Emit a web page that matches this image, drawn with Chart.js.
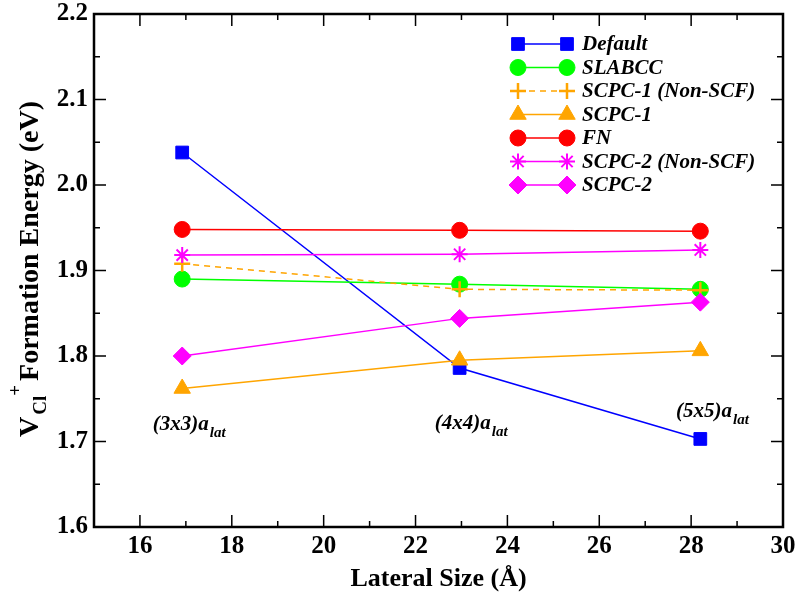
<!DOCTYPE html>
<html>
<head>
<meta charset="utf-8">
<script src="https://cdn.jsdelivr.net/npm/chart.js@4.4.1/dist/chart.umd.min.js"></script>
<style>
  html, body { margin: 0; padding: 0; background: #fff; }
  #wrap { width: 799px; height: 595px; }
</style>
</head>
<body>
<div id="wrap"><canvas id="chart"></canvas></div>
<script>
// lateral size of each supercell (Å)
const lateralSize = [16.92, 22.96, 28.2];
const cellNames = ['(3x3)', '(4x4)', '(5x5)'];

// V_Cl+ formation energy (eV) for each correction scheme
const defaultE     = [2.038, 1.786, 1.703];
const slabccE      = [1.890, 1.884, 1.878];
const scpc1NonScfE = [1.908, 1.878, 1.877];
const scpc1E       = [1.762, 1.795, 1.806];
const fnE          = [1.948, 1.947, 1.946];
const scpc2NonScfE = [1.918, 1.919, 1.924];
const scpc2E       = [1.800, 1.844, 1.863];

const seriesNames = ['Default', 'SLABCC', 'SCPC-1 (Non-SCF)', 'SCPC-1', 'FN', 'SCPC-2 (Non-SCF)', 'SCPC-2'];

const xTicks = [16, 18, 20, 22, 24, 26, 28, 30];
const yTicks = [1.6, 1.7, 1.8, 1.9, 2.0, 2.1, 2.2];

const SERIF = '"Liberation Serif", "DejaVu Serif", serif';

function pts(values) {
    return values.map((v, i) => ({ x: lateralSize[i], y: v }));
}

function series(idx, values, color, style, radius, extra) {
    return Object.assign({
        label: seriesNames[idx],
        data: pts(values),
        showLine: true,
        borderColor: color,
        backgroundColor: color,
        borderWidth: 1.5,
        pointStyle: style,
        pointRadius: radius,
        pointHoverRadius: radius,
        pointBackgroundColor: color,
        pointBorderColor: color,
        pointBorderWidth: 1,
        order: 10 - idx   // later series are painted over earlier ones
    }, extra || {});
}

const datasets = [
    series(0, defaultE, '#0000ff', 'rect', 9),
    series(1, slabccE, '#00ff00', 'circle', 8),
    series(2, scpc1NonScfE, '#ffa500', 'cross', 8, { borderDash: [6, 5], pointBorderWidth: 2.5 }),
    series(3, scpc1E, '#ffa500', 'triangle', 9.5),
    series(4, fnE, '#ff0000', 'circle', 8),
    series(5, scpc2NonScfE, '#ff00ff', 'star', 8, { pointBorderWidth: 2 }),
    series(6, scpc2E, '#ff00ff', 'rectRot', 9)
];

// where the supercell captions sit, in data units (left edge, baseline)
const captionPos = [[16.28, 1.713], [22.42, 1.715], [27.67, 1.729]];

// frame, inward ticks, axis title, captions and legend
const decorations = {
    id: 'decorations',
    afterDraw(chart) {
        const ctx = chart.ctx;
        const { left, right, top, bottom } = chart.chartArea;
        const xs = chart.scales.x, ys = chart.scales.y;
        ctx.save();
        ctx.strokeStyle = '#000';
        ctx.fillStyle = '#000';

        // ticks on all four sides
        ctx.lineWidth = 1.5;
        ctx.beginPath();
        for (let v = 15; v <= 30; v += 1) {
            const px = xs.getPixelForValue(v);
            const len = (v % 2 === 0) ? 12 : 6;
            ctx.moveTo(px, bottom); ctx.lineTo(px, bottom - len);
            ctx.moveTo(px, top); ctx.lineTo(px, top + len);
        }
        for (let k = 0; k <= 12; k++) {
            const v = 1.6 + k * 0.05;
            const py = ys.getPixelForValue(v);
            const len = (k % 2 === 0) ? 12 : 6;
            ctx.moveTo(left, py); ctx.lineTo(left + len, py);
            ctx.moveTo(right, py); ctx.lineTo(right - len, py);
        }
        ctx.stroke();

        // frame
        ctx.lineWidth = 2.5;
        ctx.strokeRect(left, top, right - left, bottom - top);

        // y axis title: V_Cl^+ Formation Energy (eV), written bottom-up
        const big = 'bold 28px ' + SERIF;
        const small = 'bold 19px ' + SERIF;
        ctx.save();
        ctx.translate(38, 437);
        ctx.rotate(-Math.PI / 2);
        ctx.textBaseline = 'alphabetic';
        ctx.textAlign = 'left';
        let tx = 0;
        ctx.font = big;
        ctx.fillText('V', tx, 0);
        tx += ctx.measureText('V').width + 2;
        ctx.font = small;
        ctx.fillText('Cl', tx, 8);
        tx += ctx.measureText('Cl').width;
        ctx.fillText('+', tx, -17);
        tx += ctx.measureText('+').width + 4;
        ctx.font = big;
        ctx.fillText('Formation Energy (eV)', tx, 0);
        ctx.restore();

        // supercell captions
        ctx.textBaseline = 'alphabetic';
        ctx.textAlign = 'left';
        cellNames.forEach((name, i) => {
            const px = xs.getPixelForValue(captionPos[i][0]);
            const py = ys.getPixelForValue(captionPos[i][1]);
            ctx.font = 'italic bold 21px ' + SERIF;
            const main = name + 'a';
            ctx.fillText(main, px, py);
            const w = ctx.measureText(main).width;
            ctx.font = 'italic bold 15px ' + SERIF;
            ctx.fillText('lat', px + w + 1, py + 7);
        });

        // legend: line with a marker at each end
        const x0 = 518, x1 = 567, y0 = 44, step = 23.5;
        chart.data.datasets.forEach((ds, i) => {
            const y = y0 + i * step;
            ctx.save();
            ctx.strokeStyle = ds.borderColor;
            ctx.lineWidth = ds.borderWidth;
            ctx.setLineDash(ds.borderDash || []);
            ctx.beginPath();
            ctx.moveTo(x0, y); ctx.lineTo(x1, y);
            ctx.stroke();
            ctx.setLineDash([]);
            ctx.fillStyle = ds.pointBackgroundColor;
            ctx.strokeStyle = ds.pointBorderColor;
            ctx.lineWidth = ds.pointBorderWidth;
            const opts = { pointStyle: ds.pointStyle, radius: ds.pointRadius, borderWidth: ds.pointBorderWidth, rotation: 0 };
            Chart.helpers.drawPoint(ctx, opts, x0, y);
            Chart.helpers.drawPoint(ctx, opts, x1, y);
            ctx.restore();
            ctx.font = 'italic bold 21px ' + SERIF;
            ctx.textBaseline = 'middle';
            ctx.fillStyle = '#000';
            ctx.fillText(ds.label, 582, y + 1);
        });
        ctx.restore();
    }
};

new Chart(document.getElementById('chart'), {
    type: 'scatter',
    data: { datasets: datasets },
    options: {
        responsive: true,
        maintainAspectRatio: false,
        animation: false,
        layout: {
            padding: { top: 14, right: 16, left: 0, bottom: 0 }
        },
        plugins: {
            legend: { display: false },
            tooltip: { enabled: false }
        },
        scales: {
            x: {
                type: 'linear',
                min: 15,
                max: 30,
                afterBuildTicks: s => { s.ticks = xTicks.map(v => ({ value: v })); },
                afterFit: s => { s.height = 68; s.paddingLeft = 0; s.paddingRight = 0; },
                grid: { display: false, drawTicks: false, tickLength: 0 },
                border: { display: false },
                ticks: {
                    color: '#000',
                    padding: 7,
                    maxRotation: 0,
                    autoSkip: false,
                    font: { family: SERIF, size: 25, weight: 'bold', lineHeight: 1 },
                    callback: v => String(v)
                },
                title: {
                    display: true,
                    text: 'Lateral Size (Å)',
                    color: '#000',
                    font: { family: SERIF, size: 26, weight: 'bold', lineHeight: 1.2 },
                    padding: { top: 0, bottom: 0 }
                }
            },
            y: {
                type: 'linear',
                min: 1.6,
                max: 2.2,
                afterBuildTicks: s => { s.ticks = yTicks.map(v => ({ value: v })); },
                afterFit: s => { s.width = 94; s.paddingTop = 0; s.paddingBottom = 0; },
                grid: { display: false, drawTicks: false, tickLength: 0 },
                border: { display: false },
                ticks: {
                    color: '#000',
                    padding: 6,
                    autoSkip: false,
                    font: { family: SERIF, size: 25, weight: 'bold', lineHeight: 1 },
                    callback: v => Number(v).toFixed(1)
                }
            }
        }
    },
    plugins: [decorations]
});
</script>
</body>
</html>
